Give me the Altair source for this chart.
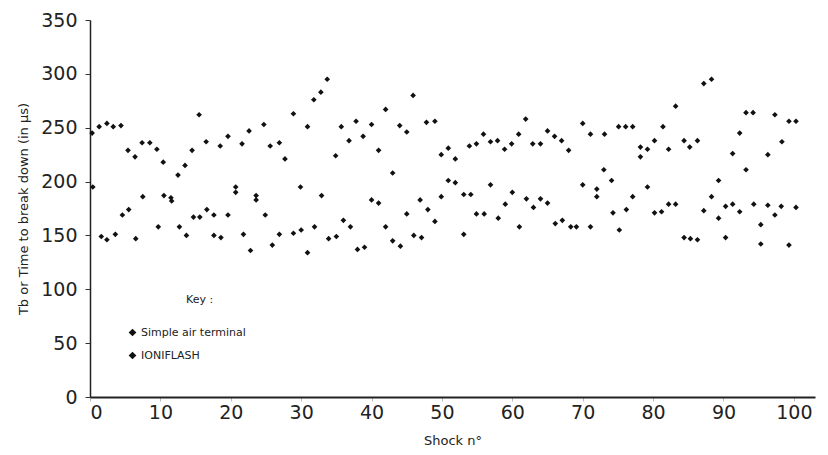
import altair as alt
import pandas as pd

# Simple air terminal (upper cloud)
simple_x = [0.3, 1.3, 2.4, 3.3, 4.4, 5.4, 6.4, 7.4, 8.5, 9.5, 10.4, 12.5, 13.5, 14.5, 15.5,
            16.5, 18.5, 19.6, 21.6, 22.6, 24.7, 25.6, 26.9, 27.7, 28.9, 30.9, 31.8, 32.8, 33.7,
            34.9, 35.7, 36.8, 37.8, 38.8, 40.0, 41.0, 42.0, 43.0, 44.0, 45.0, 45.9, 47.8, 49.0,
            49.9, 50.9, 51.9, 53.9, 54.9, 55.9, 56.9, 57.9, 58.9, 59.9, 60.9, 61.9, 62.9, 64.0,
            65.0, 66.0, 67.0, 68.0, 70.0, 71.1, 73.1, 75.1, 76.1, 77.1, 78.2, 78.2, 79.2, 80.2,
            81.4, 82.2, 83.2, 84.4, 85.2, 86.3, 87.2, 88.3, 91.3, 92.3, 93.2, 94.2, 96.3, 97.3,
            98.3, 99.3, 100.3]
simple_y = [245, 251, 254, 251, 252, 229, 223, 236, 236, 230, 218, 206, 215, 229, 262,
            237, 233, 242, 235, 247, 253, 233, 236, 221, 263, 251, 276, 283, 295,
            224, 251, 238, 256, 242, 253, 229, 267, 208, 252, 246, 280, 255, 256,
            225, 231, 221, 233, 235, 244, 237, 238, 230, 235, 244, 258, 235, 235,
            247, 242, 238, 229, 254, 244, 244, 251, 251, 251, 232, 223, 230, 238,
            251, 230, 270, 238, 232, 238, 291, 295, 226, 245, 264, 264, 225, 262,
            237, 256, 256]

# IONIFLASH (lower cloud)
ioni_x = [0.4, 1.6, 2.4, 3.6, 4.6, 5.5, 6.5, 7.5, 9.7, 10.5, 11.5, 11.6, 12.7, 13.7, 14.7,
          15.6, 16.6, 17.6, 17.6, 18.6, 19.6, 20.7, 20.7, 21.8, 22.8, 23.6, 23.6, 24.9, 25.9,
          26.9, 28.9, 29.9, 30.0, 30.9, 31.9, 32.9, 33.9, 35.0, 36.0, 37.0, 38.0, 39.0, 40.0,
          41.0, 42.0, 43.0, 44.1, 45.0, 46.0, 46.9, 47.1, 48.0, 49.0, 49.9, 50.9, 51.9, 53.1,
          54.1, 53.1, 54.9, 56.0, 56.9, 58.0, 59.0, 60.0, 61.0, 62.0, 63.0, 64.0, 65.0, 66.1,
          67.1, 68.3, 69.1, 70.0, 71.1, 72.0, 72.0, 73.0, 74.1, 74.3, 75.2, 76.2, 77.1, 79.2,
          80.2, 81.2, 82.2, 83.2, 84.4, 85.3, 86.3, 87.2, 88.3, 89.3, 89.3, 90.3, 90.3, 91.3,
          92.3, 93.2, 94.3, 95.3, 95.3, 96.3, 97.3, 98.2, 99.3, 100.3]
ioni_y = [195, 149, 146, 151, 169, 174, 147, 186, 158, 187, 185, 182, 158, 150, 167,
          167, 174, 169, 150, 148, 169, 195, 190, 151, 136, 187, 183, 169, 141,
          151, 152, 195, 155, 134, 158, 187, 147, 149, 164, 158, 137, 139, 183,
          180, 158, 145, 140, 170, 150, 183, 148, 174, 163, 186, 201, 199, 188,
          188, 151, 170, 170, 197, 166, 179, 190, 158, 184, 176, 184, 180, 161,
          164, 158, 158, 197, 158, 193, 186, 211, 201, 171, 155, 174, 186, 195,
          171, 172, 179, 179, 148, 147, 146, 173, 186, 201, 166, 177, 148, 179,
          172, 211, 179, 160, 142, 178, 169, 177, 141, 176]

series_names = ["Simple air terminal", "IONIFLASH"]
x_ticks = list(range(0, 101, 10))
y_ticks = list(range(0, 351, 50))

df = pd.concat([
    pd.DataFrame({"shock": simple_x, "tb": simple_y, "series": series_names[0]}),
    pd.DataFrame({"shock": ioni_x, "tb": ioni_y, "series": series_names[1]}),
], ignore_index=True)

FONT = "DejaVu Sans"

chart = alt.Chart(df).mark_point(shape="diamond", filled=True, size=32, opacity=1).encode(
    x=alt.X("shock:Q",
            scale=alt.Scale(domain=[0, 103], nice=False, zero=False),
            axis=alt.Axis(values=x_ticks, title="Shock n°", grid=False,
                          labelFontSize=19, labelFont=FONT, labelColor="#222",
                          titleFontSize=13, titleFont=FONT, titleFontWeight="normal",
                          titleColor="#222", titlePadding=12,
                          tickSize=4, tickColor="#bbb", labelPadding=2,
                          domainColor="#222", domainWidth=2)),
    y=alt.Y("tb:Q",
            scale=alt.Scale(domain=[0, 350], nice=False),
            axis=alt.Axis(values=y_ticks, title="Tb or Time to break down (in µs)", grid=False,
                          labelFontSize=19, labelFont=FONT, labelColor="#222",
                          titleFontSize=13, titleFont=FONT, titleFontWeight="normal",
                          titleColor="#222", titlePadding=10,
                          tickSize=5, tickColor="#333", labelPadding=8,
                          domainColor="#222", domainWidth=1.5)),
    color=alt.Color("series:N",
                    scale=alt.Scale(domain=series_names, range=["#111111", "#111111"]),
                    legend=alt.Legend(title="Key :", orient="none", legendX=37, legendY=274,
                                      titleAnchor="middle", titleAlign="left",
                                      titleFont=FONT, titleFontSize=11,
                                      titleFontWeight="normal", titleColor="#222",
                                      titlePadding=22, labelFont=FONT, labelFontSize=11,
                                      labelColor="#222", symbolType="diamond", symbolSize=60,
                                      rowPadding=11, labelOffset=3)),
).properties(
    width=725, height=377,
    autosize=alt.AutoSizeParams(type="none"),
    padding={"left": 82, "top": 12, "right": 5, "bottom": 50},
).configure_view(stroke=None)

chart.save("out.html", embed_options={"renderer": "svg", "actions": False})
